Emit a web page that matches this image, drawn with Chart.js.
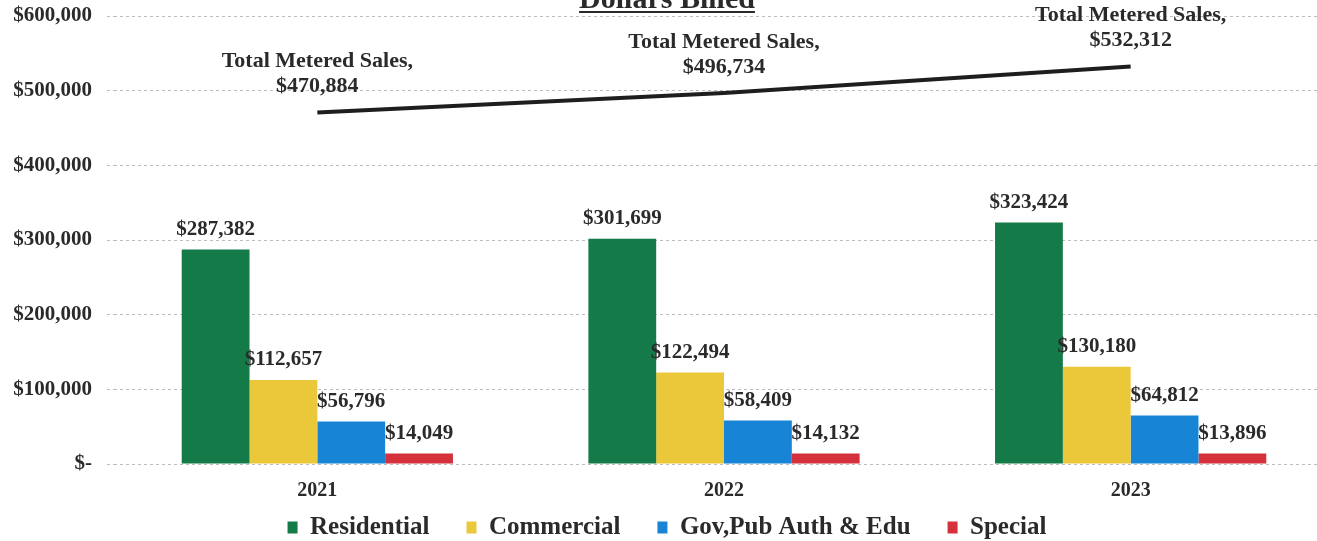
<!DOCTYPE html>
<html>
<head>
<meta charset="utf-8">
<script src="https://cdn.jsdelivr.net/npm/chart.js@4.4.1/dist/chart.umd.min.js"></script>
<style>
  html, body { margin: 0; padding: 0; background: #fff; overflow: hidden; }
  #wrap { position: relative; width: 1340px; height: 568px; margin-top: -18px; }
</style>
</head>
<body>
<div id="wrap"><canvas id="billedChart"></canvas></div>
<script>
const years = ['2021', '2022', '2023'];
const residential = [287382, 301699, 323424];
const commercial = [112657, 122494, 130180];
const govPubEdu = [56796, 58409, 64812];
const special = [14049, 14132, 13896];
const totalMetered = [470884, 496734, 532312];
const yTicks = [0, 100000, 200000, 300000, 400000, 500000, 600000];

const SERIF = '"Liberation Serif", "Times New Roman", serif';
const INK = '#2a2a2a';

function money(v) {
  return '$' + v.toLocaleString('en-US');
}

// value labels over bars, two-line captions over the total line
const valueLabels = {
  id: 'valueLabels',
  afterDatasetsDraw(chart) {
    const ctx = chart.ctx;
    ctx.save();
    ctx.fillStyle = INK;
    ctx.textAlign = 'center';
    ctx.textBaseline = 'middle';
    chart.data.datasets.forEach((ds, i) => {
      const meta = chart.getDatasetMeta(i);
      meta.data.forEach((el, j) => {
        const v = ds.data[j];
        if (ds.type === 'line') {
          ctx.font = 'bold 22px ' + SERIF;
          ctx.fillText('Total Metered Sales,', el.x, el.y - 51);
          ctx.fillText(money(v), el.x, el.y - 26);
        } else {
          ctx.font = 'bold 21px ' + SERIF;
          ctx.fillText(money(v), el.x, el.y - 20);
        }
      });
    });
    ctx.restore();
  }
};

// Chart.js titles have no underline option
const titleUnderline = {
  id: 'titleUnderline',
  afterDraw(chart) {
    const tb = chart.titleBlock;
    if (!tb) return;
    const opts = chart.options.plugins.title;
    const ctx = chart.ctx;
    ctx.save();
    ctx.font = 'bold 30px ' + SERIF;
    const w = ctx.measureText(opts.text).width;
    const cx = (tb.left + tb.right) / 2;
    const cy = tb.top + opts.padding.top + 18 + 12;
    ctx.strokeStyle = INK;
    ctx.lineWidth = 2;
    ctx.beginPath();
    ctx.moveTo(cx - w / 2, cy);
    ctx.lineTo(cx + w / 2, cy);
    ctx.stroke();
    ctx.restore();
  }
};

function barSet(label, data, color) {
  return {
    label,
    data,
    backgroundColor: color,
    borderWidth: 0,
    categoryPercentage: 0.667,
    barPercentage: 1,
    order: 2,
  };
}

// legend padding is shared by rows and columns, so widen the gap between
// items with a few trailing spaces instead
function legendItems(chart) {
  const items = Chart.defaults.plugins.legend.labels.generateLabels(chart)
    .filter((item) => item.text !== 'Total Metered Sales');
  items.forEach((item, i) => {
    if (i < items.length - 1) item.text += '\u2002\u2002';
  });
  return items;
}

new Chart(document.getElementById('billedChart'), {
  type: 'bar',
  data: {
    labels: years,
    datasets: [
      {
        type: 'line',
        label: 'Total Metered Sales',
        data: totalMetered,
        borderColor: '#1e1e1e',
        borderWidth: 4,
        pointRadius: 0,
        tension: 0,
        fill: false,
        order: 1,
      },
      barSet('Residential', residential, '#137a48'),
      barSet('Commercial', commercial, '#ebc73a'),
      barSet('Gov,Pub Auth & Edu', govPubEdu, '#1784d6'),
      barSet('Special', special, '#d4313d'),
    ],
  },
  plugins: [valueLabels, titleUnderline],
  options: {
    responsive: true,
    maintainAspectRatio: false,
    animation: false,
    layout: { padding: { top: 0, right: 6, bottom: 0, left: 0 } },
    plugins: {
      title: {
        display: true,
        text: 'Dollars Billed',
        color: INK,
        font: { family: SERIF, size: 30, weight: 'bold' },
        padding: { top: 0, bottom: -2 },
      },
      legend: {
        position: 'bottom',
        labels: {
          generateLabels: legendItems,
          color: INK,
          font: { family: SERIF, size: 25, weight: 'bold' },
          boxWidth: 10,
          boxHeight: 12,
          padding: 12,
        },
      },
      tooltip: { enabled: false },
    },
    scales: {
      x: {
        grid: { display: false, drawTicks: false },
        border: { display: false },
        ticks: {
          color: INK,
          font: { family: SERIF, size: 20, weight: 'bold' },
          padding: 15,
        },
        afterFit: (axis) => { axis.height = 39; },
      },
      y: {
        min: 0,
        max: 600000,
        afterBuildTicks: (axis) => { axis.ticks = yTicks.map((v) => ({ value: v })); },
        grid: {
          color: 'rgba(0,0,0,0.26)',
          lineWidth: 1,
          tickLength: 7,
          tickColor: 'rgba(0,0,0,0.26)',
          tickBorderDash: [3, 3],
        },
        border: { display: false, dash: [3, 3] },
        ticks: {
          color: INK,
          font: { family: SERIF, size: 21, weight: 'bold' },
          padding: 15,
          callback: (v) => (v === 0 ? '$-' : money(v)),
        },
        afterFit: (axis) => { axis.width = 114; },
      },
    },
  },
});
</script>
</body>
</html>
